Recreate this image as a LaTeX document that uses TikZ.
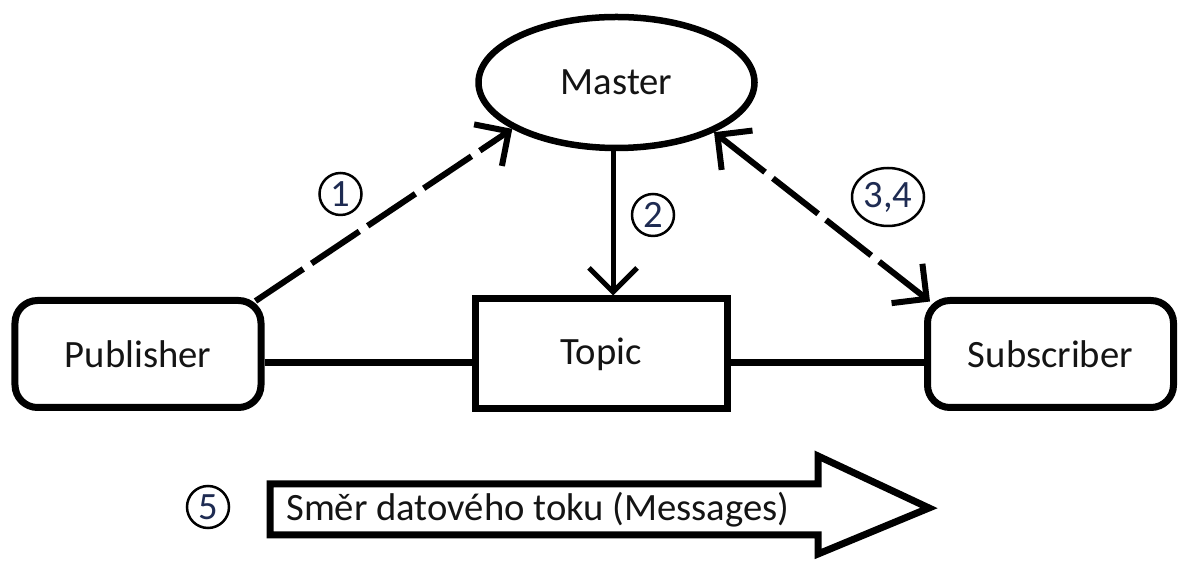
\documentclass[tikz,border=0pt]{standalone}
\usepackage{fontspec}
\setmainfont{Carlito}
\usetikzlibrary{arrows.meta, shapes.geometric, calc}
\definecolor{ink}{HTML}{141414}
\definecolor{digit}{HTML}{1E2B52}
\tikzset{
  every node/.style = {font=\fontsize{22}{26}\selectfont, text=ink},
  psbase/.style   = {draw=black, line width=0.14cm, fill=white, align=center, inner sep=0pt},
  psend/.style    = {psbase, rounded corners=0.45cm, minimum width=4.92cm, minimum height=2.14cm},
  pstopic/.style  = {psbase, minimum width=5.04cm, minimum height=2.2cm},
  psmaster/.style = {psbase, ellipse, line width=0.13cm, minimum width=5.52cm, minimum height=2.62cm},
  pswire/.style   = {draw=black, line width=0.14cm},
  psgo/.style     = {-{Straight Barb[length=0.48cm,width=0.96cm]}, draw=black, line width=0.1cm},
  pscall/.style   = {>={Straight Barb[length=0.5cm,width=1.0cm]}, ->, draw=black,
                     line width=0.12cm, dash pattern=on 1.15cm off 0.2cm},
  pscallb/.style  = {pscall, <->},
  psnum/.style    = {circle, draw=black, line width=0.05cm, inner sep=0pt,
                     minimum size=0.84cm, text=digit},
  psflow/.style   = {draw=black, line width=0.14cm, line join=miter, fill=white},
}

\begin{document}
\begin{tikzpicture}
\path[use as bounding box, fill=white] (0,0) rectangle (23.58,11.26);

\node[psmaster] (master) at (12.33,9.61) {Master};
\node[psend]    (pub)    at (2.76,4.18)  {Publisher};
\node[pstopic]  (topic)  at (12.02,4.18) {Topic};
\node[psend]    (sub)    at (21.01,4.18) {Subscriber};

% data path publisher -> topic -> subscriber
\draw[pswire] ($(pub.east)+(0,-0.18)$) -- ($(topic.west)+(0,-0.18)$);
\draw[pswire] ($(topic.east)+(0,-0.18)$) -- ($(sub.west)+(0,-0.18)$);

% registrations with the master
\draw[pscall]  ($(pub.north east)+(-0.18,-0.08)$) -- (master.204);
\draw[psgo]    ($(master.south)+(-0.07,0)$) -- ($(master.south |- topic.north)+(-0.07,0)$);
\draw[pscallb] (master.333) -- ($(sub.north west)+(0.12,-0.09)$);

\node[psnum] (n1) at (6.81,7.38) {1};
\node[psnum] (n2) at (13.06,6.96) {2};
\node[psnum, ellipse, minimum width=1.44cm, minimum height=1.16cm] (n34) at (17.76,7.32) {3,4};

% direction of the message flow
\draw[psflow] (5.40,1.58) -- (16.36,1.58) -- (16.36,2.14) -- (18.58,1.10)
  -- (16.36,0.18) -- (16.36,0.56) -- (5.40,0.56) -- cycle;
\node[anchor=west, inner sep=0pt] (flow) at (5.72,1.07) {Směr datového toku (Messages)};
\node[psnum] (n5) at (4.16,1.12) {5};
\end{tikzpicture}
\end{document}
